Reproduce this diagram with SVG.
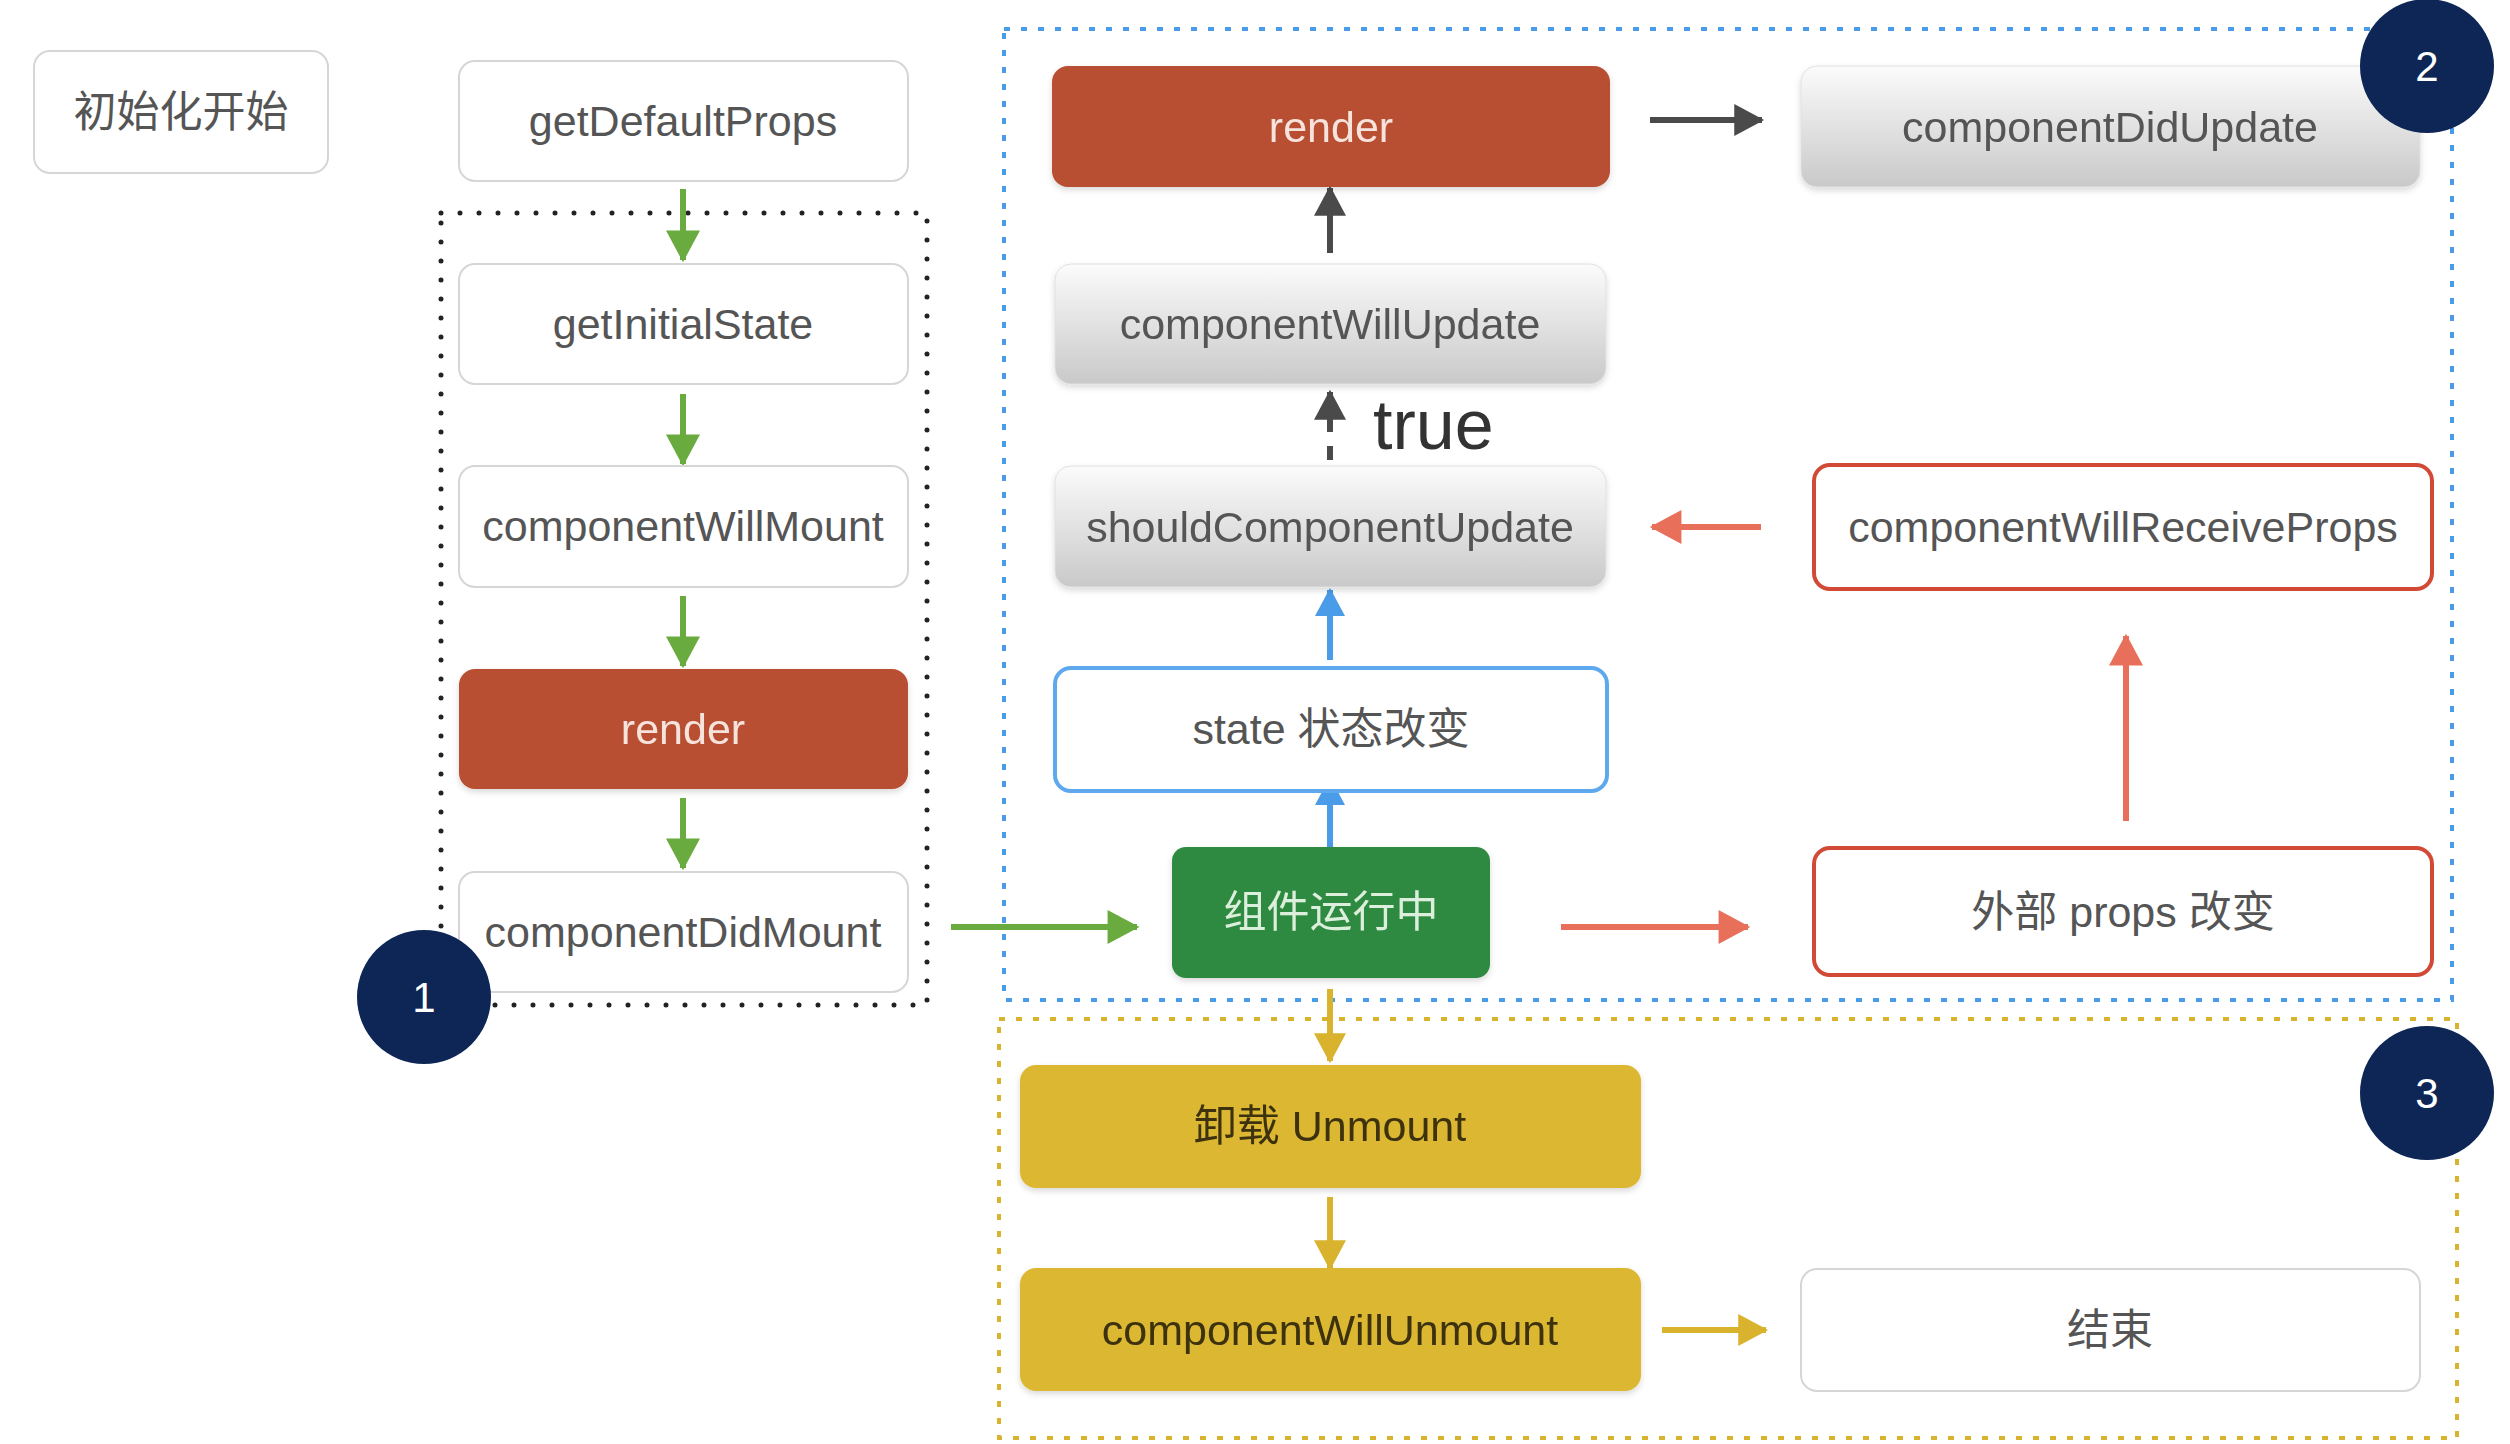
<svg xmlns="http://www.w3.org/2000/svg" width="2510" height="1444" viewBox="0 0 2510 1444">
<style>
.t{font-family:"Liberation Sans",Arial,"Noto Sans CJK SC",sans-serif;font-size:43px;text-anchor:middle;dominant-baseline:central;fill:#555}
.w{fill:#fff;stroke:#d6d6d6;stroke-width:2}
.g{fill:url(#gray);stroke:#e0e0e0;stroke-width:1}
.red{fill:#b84f31}
.grn{fill:#2e8a3f}
.yel{fill:#dcb832}
.ro{fill:#fff;stroke:#d24a36;stroke-width:4}
.bo{fill:#fff;stroke:#5ea8ee;stroke-width:4}
.num{font-family:"Liberation Sans",Arial,sans-serif;font-size:42px;fill:#fff;text-anchor:middle;dominant-baseline:central}
.arr{stroke-width:6;fill:none}
</style>
<defs>
<linearGradient id="gray" x1="0" y1="0" x2="0" y2="1">
<stop offset="0" stop-color="#fbfbfb"/>
<stop offset="1" stop-color="#c9c9c9"/>
</linearGradient>
<filter id="sh" x="-10%" y="-10%" width="120%" height="130%">
<feDropShadow dx="0" dy="3" stdDeviation="3" flood-color="#000" flood-opacity="0.15"/>
</filter>
<marker id="mG" viewBox="0 0 28 30" refX="26" refY="15" markerWidth="32" markerHeight="34" markerUnits="userSpaceOnUse" orient="auto"><path d="M0,0 L28,15 L0,30 z" fill="#6aab3f"/></marker>
<marker id="mB" viewBox="0 0 28 30" refX="26" refY="15" markerWidth="32" markerHeight="30" markerUnits="userSpaceOnUse" orient="auto"><path d="M0,0 L28,15 L0,30 z" fill="#4a9be8"/></marker>
<marker id="mD" viewBox="0 0 28 30" refX="26" refY="15" markerWidth="34" markerHeight="32" markerUnits="userSpaceOnUse" orient="auto"><path d="M0,0 L28,15 L0,30 z" fill="#4a4a4a"/></marker>
<marker id="mR" viewBox="0 0 28 30" refX="26" refY="15" markerWidth="36" markerHeight="34" markerUnits="userSpaceOnUse" orient="auto"><path d="M0,0 L28,15 L0,30 z" fill="#e8705a"/></marker>
<marker id="mY" viewBox="0 0 28 30" refX="26" refY="15" markerWidth="32" markerHeight="32" markerUnits="userSpaceOnUse" orient="auto"><path d="M0,0 L28,15 L0,30 z" fill="#d9b32e"/></marker>
</defs>
<rect width="2510" height="1444" fill="#fff"/>

<g id="groups">
<rect id="group1" x="441" y="213" width="486" height="792" fill="none" stroke="#222" stroke-width="5" stroke-dasharray="0 19" stroke-linecap="round"/>
<rect id="group2" x="1004" y="29" width="1448" height="971" fill="none" stroke="#4a9be8" stroke-width="4" stroke-dasharray="6 11"/>
<rect id="group3" x="999" y="1019" width="1458" height="419" fill="none" stroke="#d9b32e" stroke-width="4" stroke-dasharray="6 11"/>
</g>

<g id="connectors">
<line class="arr" stroke="#6aab3f" x1="683" y1="189" x2="683" y2="260" marker-end="url(#mG)"/>
<line class="arr" stroke="#6aab3f" x1="683" y1="394" x2="683" y2="464" marker-end="url(#mG)"/>
<line class="arr" stroke="#6aab3f" x1="683" y1="596" x2="683" y2="666" marker-end="url(#mG)"/>
<line class="arr" stroke="#6aab3f" x1="683" y1="798" x2="683" y2="868" marker-end="url(#mG)"/>
<line class="arr" stroke="#6aab3f" x1="951" y1="927" x2="1137" y2="927" marker-end="url(#mG)"/>
<line class="arr" stroke="#4a9be8" x1="1330" y1="847" x2="1330" y2="779" marker-end="url(#mB)"/>
<line class="arr" stroke="#4a9be8" x1="1330" y1="660" x2="1330" y2="590" marker-end="url(#mB)"/>
<line class="arr" stroke="#4a4a4a" x1="1330" y1="460" x2="1330" y2="392" stroke-dasharray="14 14" marker-end="url(#mD)"/>
<line class="arr" stroke="#4a4a4a" x1="1330" y1="253" x2="1330" y2="188" marker-end="url(#mD)"/>
<line class="arr" stroke="#4a4a4a" x1="1650" y1="120" x2="1762" y2="120" marker-end="url(#mD)"/>
<line class="arr" stroke="#e8705a" x1="1561" y1="927" x2="1748" y2="927" marker-end="url(#mR)"/>
<line class="arr" stroke="#e8705a" x1="2126" y1="821" x2="2126" y2="636" marker-end="url(#mR)"/>
<line class="arr" stroke="#e8705a" x1="1761" y1="527" x2="1652" y2="527" marker-end="url(#mR)"/>
<line class="arr" stroke="#d9b32e" x1="1330" y1="989" x2="1330" y2="1061" marker-end="url(#mY)"/>
<line class="arr" stroke="#d9b32e" x1="1330" y1="1197" x2="1330" y2="1268" marker-end="url(#mY)"/>
<line class="arr" stroke="#d9b32e" x1="1662" y1="1330" x2="1766" y2="1330" marker-end="url(#mY)"/>
<text x="1373" y="425" font-family="'Liberation Sans',Arial,sans-serif" font-size="70" fill="#333" dominant-baseline="central">true</text>
</g>

<g id="n-start"><rect class="w" x="34" y="51" width="294" height="122" rx="16"/><text class="t" x="181" y="112">初始化开始</text></g>
<g id="n-getDefaultProps"><rect class="w" x="459" y="61" width="449" height="120" rx="16"/><text class="t" x="683" y="121">getDefaultProps</text></g>
<g id="n-getInitialState"><rect class="w" x="459" y="264" width="449" height="120" rx="16"/><text class="t" x="683" y="324">getInitialState</text></g>
<g id="n-componentWillMount"><rect class="w" x="459" y="466" width="449" height="121" rx="16"/><text class="t" x="683" y="526">componentWillMount</text></g>
<g id="n-render1" filter="url(#sh)"><rect class="red" x="459" y="669" width="449" height="120" rx="16"/><text class="t" x="683" y="729" style="fill:#f6e3dc">render</text></g>
<g id="n-componentDidMount"><rect class="w" x="459" y="872" width="449" height="120" rx="16"/><text class="t" x="683" y="932">componentDidMount</text></g>

<g id="n-render2" filter="url(#sh)"><rect class="red" x="1052" y="66" width="558" height="121" rx="16"/><text class="t" x="1331" y="127" style="fill:#f6e3dc">render</text></g>
<g id="n-componentDidUpdate" filter="url(#sh)"><rect class="g" x="1801" y="66" width="619" height="121" rx="16"/><text class="t" x="2110" y="127">componentDidUpdate</text></g>
<g id="n-componentWillUpdate" filter="url(#sh)"><rect class="g" x="1055" y="264" width="551" height="120" rx="16"/><text class="t" x="1330" y="324">componentWillUpdate</text></g>
<g id="n-shouldComponentUpdate" filter="url(#sh)"><rect class="g" x="1055" y="466" width="551" height="121" rx="16"/><text class="t" x="1330" y="527">shouldComponentUpdate</text></g>
<g id="n-componentWillReceiveProps"><rect class="ro" x="1814" y="465" width="618" height="124" rx="16"/><text class="t" x="2123" y="527">componentWillReceiveProps</text></g>
<g id="n-state"><rect class="bo" x="1055" y="668" width="552" height="123" rx="16"/><text class="t" x="1331" y="729">state 状态改变</text></g>
<g id="n-running" filter="url(#sh)"><rect class="grn" x="1172" y="847" width="318" height="131" rx="14"/><text class="t" x="1331" y="912" style="fill:#dcefdc">组件运行中</text></g>
<g id="n-props"><rect class="ro" x="1814" y="848" width="618" height="127" rx="16"/><text class="t" x="2123" y="912">外部 props 改变</text></g>
<g id="n-unmount" filter="url(#sh)"><rect class="yel" x="1020" y="1065" width="621" height="123" rx="16"/><text class="t" x="1330" y="1126" style="fill:#3d3310">卸载 Unmount</text></g>
<g id="n-componentWillUnmount" filter="url(#sh)"><rect class="yel" x="1020" y="1268" width="621" height="123" rx="16"/><text class="t" x="1330" y="1330" style="fill:#3d3310">componentWillUnmount</text></g>
<g id="n-end"><rect class="w" x="1801" y="1269" width="619" height="122" rx="16"/><text class="t" x="2110" y="1330">结束</text></g>

<g id="badge1"><circle cx="424" cy="997" r="67" fill="#0d2656"/><text class="num" x="424" y="997">1</text></g>
<g id="badge2"><circle cx="2427" cy="66" r="67" fill="#0d2656"/><text class="num" x="2427" y="66">2</text></g>
<g id="badge3"><circle cx="2427" cy="1093" r="67" fill="#0d2656"/><text class="num" x="2427" y="1093">3</text></g>
</svg>
